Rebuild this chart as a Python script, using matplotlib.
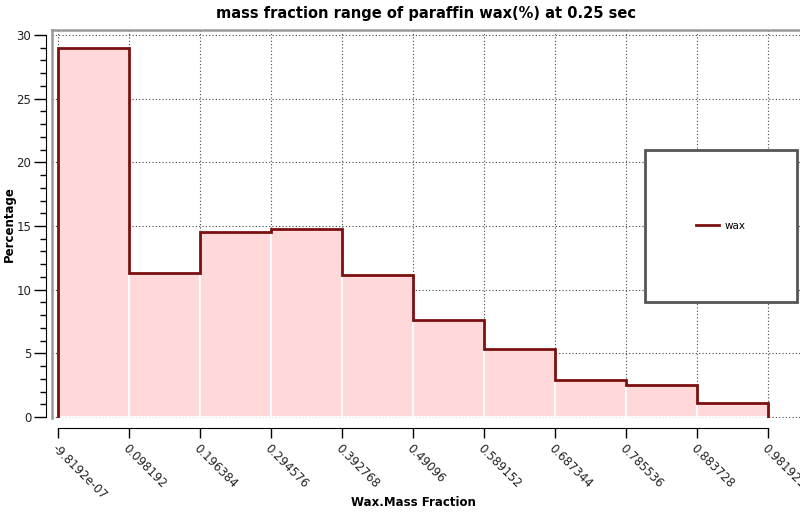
import matplotlib
matplotlib.use("Agg")
import matplotlib.pyplot as plt
from matplotlib.patches import Rectangle
import numpy as np

tick_labels = ["-9.8192e-07", "0.098192", "0.196384", "0.294576", "0.392768",
               "0.49096", "0.589152", "0.687344", "0.785536", "0.883728", "0.981921"]
edges = [-9.8192e-07, 0.098192, 0.196384, 0.294576, 0.392768,
         0.49096, 0.589152, 0.687344, 0.785536, 0.883728, 0.981921]
percent = [29.0, 11.3, 14.5, 14.75, 11.15, 7.6, 5.35, 2.9, 2.5, 1.1]

fig = plt.figure(figsize=(8, 5.12), dpi=100)
ax = fig.add_axes([0.065, 0.1836, 0.935, 0.7578])

edges_a = np.array(edges)
widths = np.diff(edges_a)
ax.bar(edges_a[:-1], percent, width=widths, align="edge", color="#ffd9d9",
       edgecolor="white", linewidth=1.2, zorder=2)
# step outline
xs = np.concatenate([[edges_a[0]], np.repeat(edges_a[1:-1], 2), [edges_a[-1]]])
ys = np.repeat(percent, 2)
xs = np.concatenate([[edges_a[0]], xs, [edges_a[-1]]])
ys = np.concatenate([[0], ys, [0]])
ax.plot(xs, ys, color="#7a1010", lw=2.0, zorder=4, label="wax",
        solid_joinstyle="miter")

ax.set_xlim(-0.0083, 1.0262)
ax.set_ylim(-0.08, 30.39)

for s in ["right", "top"]:
    ax.spines[s].set_visible(False)
ax.spines["bottom"].set_position(("outward", 7))
ax.spines["bottom"].set_bounds(edges[0], edges[-1])
ax.spines["left"].set_position(("outward", 4))
ax.spines["left"].set_bounds(0, 30)

ax.set_yticks([0, 5, 10, 15, 20, 25, 30])
ax.set_yticks(np.arange(0, 31, 1), minor=True)
ax.tick_params(axis="y", which="major", length=9, width=1, labelsize=8.5,
               labelcolor="#222222", pad=2)
ax.tick_params(axis="y", which="minor", length=4, width=1)
ax.tick_params(axis="x", which="major", length=7, width=1, pad=3,
               labelrotation=-45, labelsize=8.5, labelcolor="#222222")

ax.set_xticks(edges)
ax.set_xticklabels(tick_labels)

ax.grid(True, which="major", linestyle=(0, (1, 2)), color="#444444", lw=0.8, zorder=1)
ax.set_axisbelow(True)

# gray frame (left and top)
ax.plot([0, 0], [0, 1], transform=ax.transAxes, color="#999999", lw=1.8, clip_on=False, zorder=5)
ax.plot([0, 1], [1, 1], transform=ax.transAxes, color="#999999", lw=1.8, clip_on=False, zorder=5)

ax.set_title("mass fraction range of paraffin wax(%) at 0.25 sec",
             fontsize=10.5, fontweight="bold", pad=9)
ax.set_xlabel("Wax.Mass Fraction", fontsize=8.5, fontweight="bold")
ax.xaxis.set_label_coords(0.4826, -0.2)
ax.set_ylabel("Percentage", fontsize=8.5, fontweight="bold")
ax.yaxis.set_label_coords(-0.048, 0.5)

# legend box
rect = Rectangle((0.7928, 0.299), 0.2032, 0.3917, transform=ax.transAxes,
                 facecolor="white", edgecolor="#555555", lw=2, zorder=6)
ax.add_patch(rect)
leg = ax.legend(loc="center", bbox_to_anchor=(0.894, 0.495), frameon=False,
                fontsize=7.5, handlelength=2.2, handletextpad=0.6)
leg.set_zorder(7)

for lab in ax.get_xticklabels():
    lab.set_ha("left")
    lab.set_va("top")
    lab.set_rotation_mode("anchor")

fig.savefig("out.png", dpi=100)
